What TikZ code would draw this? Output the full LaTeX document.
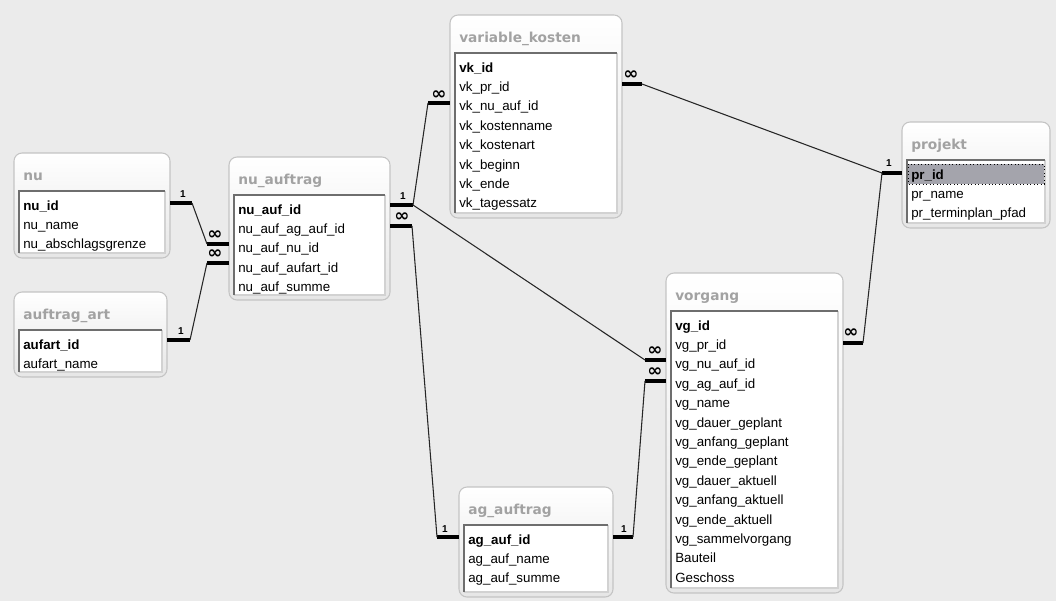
\documentclass[tikz,border=0pt]{standalone}
\usepackage{fontspec}
\setmainfont{Liberation Sans}
\newfontfamily\titlefont{DejaVu Sans}
\newfontfamily\symfont{DejaVu Sans}
\usetikzlibrary{fit}
\definecolor{canvas}{HTML}{EBEBEB}
\definecolor{panelborder}{HTML}{C4C4C4}
\definecolor{paneltop}{HTML}{FFFFFF}
\definecolor{panelbottom}{HTML}{E6E6E6}
\definecolor{titlegray}{HTML}{A2A2A2}
\definecolor{innerdark}{HTML}{6E6E6E}
\definecolor{innerlight}{HTML}{D2D2D2}
\definecolor{selrow}{HTML}{A4A4AC}
\tikzset{
  panel/.style={draw=panelborder, rounded corners=6, top color=paneltop, bottom color=panelbottom, line width=0.8},
  tabtitle/.style={anchor=base west, inner sep=0pt, font=\titlefont\bfseries\fontsize{10.3}{12}\selectfont, text=titlegray},
  pkrow/.style={anchor=base west, inner sep=0pt, font=\bfseries\fontsize{10}{12}\selectfont},
  fieldrow/.style={anchor=base west, inner sep=0pt, font=\fontsize{10}{12}\selectfont},
  stub/.style={line width=2.4pt, black},
  rel/.style={line width=0.8pt, black!85},
  onelbl/.style={inner sep=0pt, font=\bfseries\fontsize{7.5}{8}\selectfont},
  manylbl/.style={inner sep=0pt, font=\symfont\bfseries\fontsize{13}{13}\selectfont, xscale=1.05},
}
% name, x1, y1, x2, y2, title, primary key, other fields, hook
\newcommand\dbtable[9]{%
  \path[panel] (#2,#3) rectangle (#4,#5);
  \node[fit={(#2,#3)(#4,#5)}, inner sep=0pt] (#1) {};
  \fill[white] ({#2+5},{#3+38}) rectangle ({#4-5},{#5-5});
  \draw[innerlight, line width=0.8] ({#2+5},{#5-5}) -- ({#4-5},{#5-5}) -- ({#4-5},{#3+38});
  \draw[innerdark, line width=1.6] ({#2+5},{#5-5}) -- ({#2+5},{#3+38}) -- ({#4-5},{#3+38});
  \node[tabtitle] (#1-title) at ({#2+9},{#3+27}) {#6};
  #9
  \node[pkrow] (#1-pk) at ({#2+9},{#3+57}) {#7};
  \foreach \r [count=\i] in {#8} {\node[fieldrow] at ({#2+9},{#3+57+19.4*\i}) {\r};}
}
\begin{document}
\begin{tikzpicture}[x=0.75pt,y=-0.75pt]
\fill[canvas] (0,0) rectangle (1056,601);
\useasboundingbox (0,0) rectangle (1056,601);

\dbtable{nu}{14}{153}{170}{258}{nu}{nu\_id}{nu\_name,nu\_abschlagsgrenze}{}
\dbtable{aa}{14}{292}{167}{377}{auftrag\_art}{aufart\_id}{aufart\_name}{}
\dbtable{nua}{229}{157}{390}{300}{nu\_auftrag}{nu\_auf\_id}{nu\_auf\_ag\_auf\_id,nu\_auf\_nu\_id,nu\_auf\_aufart\_id,nu\_auf\_summe}{}
\dbtable{vk}{450}{15}{622}{218}{variable\_kosten}{vk\_id}{vk\_pr\_id,vk\_nu\_auf\_id,vk\_kostenname,vk\_kostenart,vk\_beginn,vk\_ende,vk\_tagessatz}{}
\dbtable{pr}{902}{122}{1050}{228}{projekt}{pr\_id}{pr\_name,pr\_terminplan\_pfad}{\draw[fill=selrow, draw=black, dotted, line width=0.6] (908,164) rectangle (1044,184);}
\dbtable{vg}{666}{273}{843}{593}{vorgang}{vg\_id}{vg\_pr\_id,vg\_nu\_auf\_id,vg\_ag\_auf\_id,vg\_name,vg\_dauer\_geplant,vg\_anfang\_geplant,vg\_ende\_geplant,vg\_dauer\_aktuell,vg\_anfang\_aktuell,vg\_ende\_aktuell,vg\_sammelvorgang,Bauteil,Geschoss}{}
\dbtable{ag}{459}{487}{613}{597}{ag\_auftrag}{ag\_auf\_id}{ag\_auf\_name,ag\_auf\_summe}{}

% stub end points
\coordinate (s1a) at (192,203);
\coordinate (s1b) at (207,244);
\coordinate (s2a) at (190,340);
\coordinate (s2b) at (207,263);
\coordinate (s3a) at (413,205);
\coordinate (s3b) at (428,103);
\coordinate (s4b) at (645,360);
\coordinate (s5a) at (412,226);
\coordinate (s5b) at (437,537);
\coordinate (s6a) at (645,381);
\coordinate (s6b) at (633,537);
\coordinate (s7a) at (642,84);
\coordinate (s7b) at (882,173);
\coordinate (s8a) at (863,343);

% nu -> nu_auftrag
\draw[stub] (nu.east |- s1a) -- (s1a);
\draw[stub] (s1b) -- (nua.west |- s1b);
\draw[rel] (s1a) -- (s1b);
\node[onelbl] at (183,194) {1};
\node[manylbl] at (215,235) {∞};

% auftrag_art -> nu_auftrag
\draw[stub] (aa.east |- s2a) -- (s2a);
\draw[stub] (s2b) -- (nua.west |- s2b);
\draw[rel] (s2a) -- (s2b);
\node[onelbl] at (181,331) {1};
\node[manylbl] at (215,254) {∞};

% nu_auftrag -> variable_kosten
\draw[stub] (nua.east |- s3a) -- (s3a);
\draw[stub] (s3b) -- (vk.west |- s3b);
\draw[rel] (s3a) -- (s3b);
\node[onelbl] at (403,196) {1};
\node[manylbl] at (439,95) {∞};

% nu_auftrag -> vorgang
\draw[stub] (s4b) -- (vg.west |- s4b);
\draw[rel] (s3a) -- (s4b);
\node[manylbl] at (655,351) {∞};

% ag_auftrag -> nu_auftrag
\draw[stub] (nua.east |- s5a) -- (s5a);
\draw[stub] (s5b) -- (ag.west |- s5b);
\draw[rel] (s5a) -- (s5b);
\node[manylbl] at (402,217) {∞};
\node[onelbl] at (445,529) {1};

% ag_auftrag -> vorgang
\draw[stub] (s6a) -- (vg.west |- s6a);
\draw[stub] (ag.east |- s6b) -- (s6b);
\draw[rel] (s6b) -- (s6a);
\node[manylbl] at (655,372) {∞};
\node[onelbl] at (624,529) {1};

% projekt -> variable_kosten
\draw[stub] (vk.east |- s7a) -- (s7a);
\draw[stub] (s7b) -- (pr.west |- s7b);
\draw[rel] (s7a) -- (s7b);
\node[manylbl] at (631,75) {∞};
\node[onelbl] at (889,163) {1};

% projekt -> vorgang
\draw[stub] (vg.east |- s8a) -- (s8a);
\draw[rel] (s8a) -- (s7b);
\node[manylbl] at (851,333) {∞};
\end{tikzpicture}
\end{document}
